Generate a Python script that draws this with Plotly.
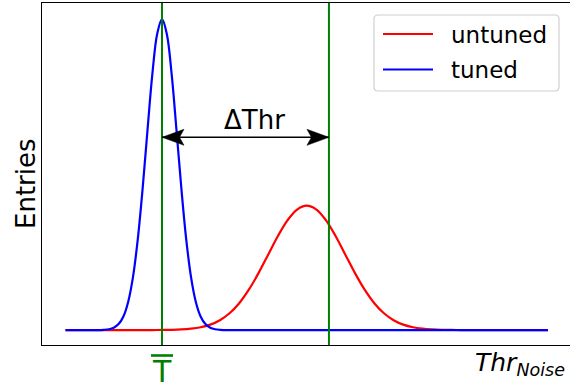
import plotly.graph_objects as go

# Distributions of the noise threshold before and after tuning
series_names = ["untuned", "tuned"]
series_colors = ["#ff0000", "#0000ff"]

untuned_x = [0, 8, 9, 10, 11, 12, 13, 14, 15, 16, 17, 18, 19, 20, 21, 22, 23, 24, 25,
             26, 27, 28, 29, 30, 31, 32, 33, 34, 35, 36, 37, 38, 39, 40, 41, 42, 50]
untuned_y = [0, 0, 0.0001, 0.0004, 0.0009, 0.0020, 0.0044, 0.0091, 0.0176, 0.0318,
             0.0541, 0.0865, 0.1299, 0.1831, 0.2426, 0.3019, 0.3530, 0.3877, 0.4000,
             0.3877, 0.3530, 0.3019, 0.2426, 0.1831, 0.1299, 0.0865, 0.0541, 0.0318,
             0.0176, 0.0091, 0.0044, 0.0020, 0.0009, 0.0004, 0.0001, 0, 0]

tuned_x = [0, 3, 4.0, 4.5, 5.0, 5.5, 6.0, 6.5, 7.0, 7.5, 8.0, 8.5, 9.0, 9.5, 10.0,
           10.5, 11.0, 11.5, 12.0, 12.5, 13.0, 13.5, 14.0, 14.5, 15.0, 15.5, 16.0, 17, 50]
tuned_y = [0, 0, 0.0009, 0.0027, 0.0076, 0.0192, 0.0439, 0.0914, 0.172, 0.295, 0.458,
           0.644, 0.823, 0.952, 1.0, 0.952, 0.823, 0.644, 0.458, 0.295, 0.172, 0.0914,
           0.0439, 0.0192, 0.0076, 0.0027, 0.0009, 0, 0]

# Threshold markers: tuned threshold T and untuned threshold
threshold_x = [10, 27.3]
tick_label = "T"
delta_label = "ΔThr"
delta_y = 0.62
x_title = "<i>Thr</i><sub><i>Noise</i></sub>"
y_title = "Entries"

W, H = 570, 387
ML, MR, MT, MB = 42, 0, 3, 42
PW, PH = W - ML - MR, H - MT - MB
FONT = "DejaVu Sans"
GREEN = "#008000"


def px_x(p):
    return (p - ML) / PW


def px_y(p):
    return (H - MB - p) / PH


fig = go.Figure()
for xs, ys, name, color in [(untuned_x, untuned_y, series_names[0], series_colors[0]),
                            (tuned_x, tuned_y, series_names[1], series_colors[1])]:
    fig.add_trace(go.Scatter(x=xs, y=ys, mode="lines", name=name, showlegend=False,
                             line=dict(color=color, width=2.2, shape="spline", smoothing=1)))

shapes = []
# vertical threshold lines across the full axes height
for tx in threshold_x:
    shapes.append(dict(type="line", xref="x", yref="paper", x0=tx, x1=tx, y0=0, y1=1,
                       line=dict(color=GREEN, width=2), layer="above"))

# double-headed arrow between the thresholds
shapes.append(dict(type="line", xref="x", yref="y", x0=threshold_x[0], x1=threshold_x[1],
                   y0=delta_y, y1=delta_y, line=dict(color="black", width=1.5), layer="above"))
head = "M0,0 L{s}22,8 L{s}17.5,0 L{s}22,-8 Z"
for tx, sgn in [(threshold_x[0], ""), (threshold_x[1], "-")]:
    shapes.append(dict(type="path", xref="x", yref="y", xsizemode="pixel", ysizemode="pixel",
                       xanchor=tx, yanchor=delta_y, path=head.format(s=sgn),
                       fillcolor="black", line=dict(color="black", width=0.5), layer="above"))

# overline on the tick label
shapes.append(dict(type="line", xref="x", yref="paper", xsizemode="pixel",
                   xanchor=threshold_x[0], x0=-11, x1=11, y0=px_y(355.5), y1=px_y(355.5),
                   line=dict(color=GREEN, width=2.6)))

# legend frame with rounded corners
r = 4
x0, x1 = 374 - ML, 559 - ML
y0, y1 = -(15 - MT), -(91 - MT)
frame = (f"M{x0 + r},{y0} L{x1 - r},{y0} Q{x1},{y0} {x1},{y0 - r} L{x1},{y1 + r} "
         f"Q{x1},{y1} {x1 - r},{y1} L{x0 + r},{y1} Q{x0},{y1} {x0},{y1 + r} "
         f"L{x0},{y0 - r} Q{x0},{y0} {x0 + r},{y0} Z")
shapes.append(dict(type="path", xref="paper", yref="paper", xsizemode="pixel",
                   ysizemode="pixel", xanchor=0, yanchor=1, path=frame,
                   fillcolor="white", line=dict(color="#d0d0d0", width=1.2), layer="above"))

annotations = []
for i, (name, color) in enumerate(zip(series_names, series_colors)):
    row_y = 34 + i * 35.5
    shapes.append(dict(type="line", xref="paper", yref="paper", x0=px_x(383), x1=px_x(433),
                       y0=px_y(row_y), y1=px_y(row_y), line=dict(color=color, width=2),
                       layer="above"))
    annotations.append(dict(text=name, xref="paper", yref="paper", x=px_x(449),
                            y=px_y(row_y + 1), xanchor="left", yanchor="middle",
                            showarrow=False, font=dict(family=FONT, size=23, color="black")))

annotations += [
    dict(text=delta_label, xref="x", yref="y", x=19.6, y=0.675, showarrow=False,
         xanchor="center", yanchor="middle", font=dict(family=FONT, size=26, color="black")),
    dict(text=tick_label, xref="x", yref="paper", x=threshold_x[0], y=px_y(352),
         xanchor="center", yanchor="top", showarrow=False,
         font=dict(family=FONT, size=30, color=GREEN)),
    dict(text=x_title, xref="paper", yref="paper", x=px_x(567), y=px_y(346),
         xanchor="right", yanchor="top", showarrow=False,
         font=dict(family=FONT, size=25, color="black")),
    dict(text=y_title, xref="paper", yref="paper", x=px_x(26), y=px_y(184),
         xanchor="center", yanchor="middle", textangle=-90, showarrow=False,
         font=dict(family=FONT, size=26, color="black")),
]

fig.update_layout(
    width=W, height=H,
    margin=dict(l=ML, r=MR, t=MT, b=MB, pad=0),
    paper_bgcolor="white", plot_bgcolor="white",
    showlegend=False,
    shapes=shapes, annotations=annotations,
    xaxis=dict(range=[-2.435, 52.28], showgrid=False, zeroline=False, showticklabels=False,
               ticks="", showline=True, linecolor="black", linewidth=1.2, mirror=True),
    yaxis=dict(range=[-0.048, 1.052], showgrid=False, zeroline=False, showticklabels=False,
               ticks="", showline=True, linecolor="black", linewidth=1.2),
)

fig.write_html("out.html")
